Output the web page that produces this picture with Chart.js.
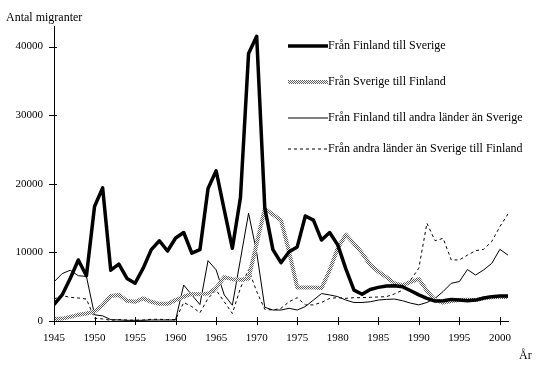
<!DOCTYPE html>
<html>
<head>
<meta charset="utf-8">
<script src="https://cdn.jsdelivr.net/npm/chart.js@4.4.1/dist/chart.umd.min.js"></script>
<style>
body{margin:0;background:#fff;}
#wrap{width:547px;height:370px;}
</style>
</head>
<body>
<div id="wrap"><canvas id="migChart" width="547" height="370"></canvas></div>
<script>
const years = [1945,1946,1947,1948,1949,1950,1951,1952,1953,1954,1955,1956,1957,1958,1959,
  1960,1961,1962,1963,1964,1965,1966,1967,1968,1969,1970,1971,1972,1973,1974,1975,1976,1977,
  1978,1979,1980,1981,1982,1983,1984,1985,1986,1987,1988,1989,1990,1991,1992,1993,1994,1995,
  1996,1997,1998,1999,2000,2001];
const finToSwe = [2400,3800,6200,8900,6600,16700,19400,7400,8300,6200,5500,7700,10400,11700,10200,
  12100,12900,9900,10400,19300,21900,16200,10600,18000,39000,41500,16500,10400,8500,10100,10800,15300,14700,
  11800,12900,11100,7600,4500,3900,4600,4900,5100,5150,5000,4400,3800,3300,2900,2950,3150,3050,
  2950,3050,3350,3550,3650,3650];
const sweToFin = [300,350,600,900,1100,1400,2300,3650,3800,2950,2800,3300,2800,2500,2500,
  3050,3550,3950,3900,4000,4800,6400,6100,6000,6200,11300,16400,15500,14700,10100,4900,4900,4900,
  4800,7400,10600,12600,11300,9900,8200,7200,6400,5500,5200,5700,6100,4400,3050,2700,2900,3050,
  3100,3050,3300,3450,3500,3500];
const finToOther = [5700,6900,7400,6600,6500,900,750,200,150,100,100,100,150,150,150,
  150,5250,3800,2400,8800,7450,3800,2300,9000,15700,10000,2000,1600,1600,1850,1600,2100,3050,
  4000,3800,3550,3050,2700,2700,2800,3050,3150,3200,2950,2600,2350,2700,3300,4300,5500,5750,
  7500,6700,7450,8400,10450,9600];
const otherToFin = [3200,3700,3450,3350,3200,400,300,100,200,150,100,150,250,250,200,
  200,2700,2100,1200,3300,4500,2800,1100,4800,7500,4300,1700,1600,1850,2800,3400,2350,2350,
  2700,3300,3400,3300,3400,3400,3450,3500,3550,3950,4500,6000,7700,14250,11700,12050,8900,8900,
  9600,10250,10450,11600,13750,15600];
const seriesNames = ["Från Finland till Sverige","Från Sverige till Finland",
  "Från Finland till andra länder än Sverige","Från andra länder än Sverige till Finland"];
const yTicks = [0,10000,20000,30000,40000];
const xTicks = [1945,1950,1955,1960,1965,1970,1975,1980,1985,1990,1995,2000];

const FONT = "'Liberation Serif','Times New Roman',serif";
const canvas = document.getElementById("migChart");
const ctx = canvas.getContext("2d");

// dithered grey like the old print
function makeHatch(){
    const c = document.createElement("canvas");
    c.width = 2; c.height = 2;
    const g = c.getContext("2d");
    g.fillStyle = "#ffffff"; g.fillRect(0,0,2,2);
    g.fillStyle = "#5a5a5a"; g.fillRect(0,0,1,1); g.fillRect(1,1,1,1);
    return ctx.createPattern(c,"repeat");
}
const hatch = makeHatch();

function pts(vals){
    return vals.map((v,i)=>({x:years[i], y:v}));
}

const legendAndTitles = {
    id:"legendAndTitles",
    afterDraw(chart){
        const c = chart.ctx;
        const xs = chart.scales.x, ys = chart.scales.y;
        c.save();
        c.strokeStyle = "#000";
        c.lineWidth = 1;
        // tick marks across the axes
        xTicks.forEach(v=>{
            const px = Math.round(xs.getPixelForValue(v))+0.5;
            c.beginPath(); c.moveTo(px, ys.bottom-4); c.lineTo(px, ys.bottom+4); c.stroke();
        });
        yTicks.forEach(v=>{
            const py = Math.round(ys.getPixelForValue(v))+0.5;
            c.beginPath(); c.moveTo(xs.left-5, py); c.lineTo(xs.left+3, py); c.stroke();
        });
        // legend
        const rowY = [46,82,118,149];
        c.font = "12px " + FONT;
        c.textBaseline = "middle";
        c.fillStyle = "#000";
        chart.data.datasets.forEach((ds,i)=>{
            const y = rowY[i];
            c.save();
            c.strokeStyle = ds.borderColor;
            c.lineWidth = ds.borderWidth;
            c.setLineDash(ds.borderDash || []);
            c.beginPath(); c.moveTo(288, y); c.lineTo(328, y); c.stroke();
            c.restore();
            c.fillText(ds.label, 328, y);
        });
        // axis titles
        c.textBaseline = "alphabetic";
        c.fillText("Antal migranter", 6, 21);
        c.fillText("År", 519, 359);
        c.restore();
    }
};

new Chart(canvas,{
    type:"line",
    data:{
        datasets:[
            {label:seriesNames[0], data:pts(finToSwe), borderColor:"#000", borderWidth:3.5},
            {label:seriesNames[1], data:pts(sweToFin), borderColor:hatch, borderWidth:4},
            {label:seriesNames[2], data:pts(finToOther), borderColor:"#000", borderWidth:1},
            {label:seriesNames[3], data:pts(otherToFin), borderColor:"#000", borderWidth:1, borderDash:[3,3]}
        ]
    },
    options:{
        responsive:false,
        animation:false,
        layout:{padding:{top:26,right:39,left:0,bottom:0}},
        elements:{
            point:{radius:0, hoverRadius:0},
            line:{tension:0, borderJoinStyle:"round", fill:false}
        },
        plugins:{legend:{display:false}, tooltip:{enabled:false}},
        scales:{
            x:{
                type:"linear",
                min:1945, max:2001,
                grid:{display:false, drawTicks:false},
                border:{display:true, color:"#000", width:1},
                ticks:{stepSize:5, padding:11, color:"#000", maxRotation:0,
                    font:{family:FONT, size:11},
                    callback:v=>String(v)},
                afterBuildTicks(s){ s.ticks = xTicks.map(v=>({value:v})); },
                afterFit(s){ s.height = 49; }
            },
            y:{
                min:0, max:43000,
                grid:{display:false, drawTicks:false},
                border:{display:true, color:"#000", width:1},
                ticks:{stepSize:10000, padding:11, color:"#000",
                    font:{family:FONT, size:11},
                    callback:v=>String(v)},
                afterBuildTicks(s){ s.ticks = yTicks.map(v=>({value:v})); },
                afterFit(s){ s.width = 54; }
            }
        }
    },
    plugins:[legendAndTitles]
});
</script>
</body>
</html>
